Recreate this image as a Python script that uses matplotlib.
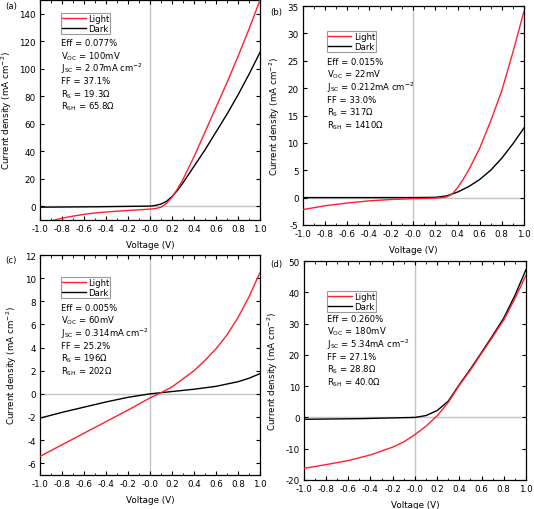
import matplotlib
matplotlib.use("Agg")
import matplotlib.pyplot as plt
import numpy as np

plt.rcParams['font.family'] = ['DejaVu Sans']
plt.rcParams['axes.unicode_minus'] = False
plt.rcParams['mathtext.default'] = 'regular'

# ---- data (voltage in V, current density in mA cm-2) ----
v_a_light = [-1.0, -0.9, -0.8, -0.7, -0.6, -0.5, -0.4, -0.3, -0.2, -0.1, 0.0, 0.05, 0.1, 0.15, 0.2, 0.25, 0.3, 0.4, 0.5, 0.6, 0.7, 0.8, 0.9, 1.0]
j_a_light = [-12.5, -10.8, -8.8, -7.3, -6.0, -5.0, -4.3, -3.7, -3.2, -2.7, -2.2, -1.8, -0.8, 2.0, 6.5, 12.5, 19.5, 36, 54, 72, 90, 109, 129, 150]
v_a_dark = [-1.0, -0.5, 0.0, 0.05, 0.1, 0.15, 0.2, 0.25, 0.3, 0.4, 0.5, 0.6, 0.7, 0.8, 0.9, 1.0]
j_a_dark = [-0.8, -0.5, 0.0, 0.5, 1.5, 3.5, 7.0, 11.5, 17, 29, 41, 54, 67, 81, 96, 112]

v_b_light = [-1.0, -0.8, -0.6, -0.4, -0.2, 0.0, 0.2, 0.3, 0.35, 0.4, 0.45, 0.5, 0.55, 0.6, 0.7, 0.8, 0.9, 1.0]
j_b_light = [-2.2, -1.5, -1.0, -0.6, -0.35, -0.2, -0.1, 0.1, 0.6, 1.8, 3.3, 5.0, 7.0, 9.0, 14.0, 19.5, 26.5, 34.0]
v_b_dark = [-1.0, -0.5, 0.0, 0.2, 0.3, 0.4, 0.5, 0.6, 0.7, 0.8, 0.9, 1.0]
j_b_dark = [0.0, 0.0, 0.0, 0.05, 0.3, 1.0, 2.0, 3.3, 5.0, 7.2, 9.8, 12.7]

v_c_light = [-1.0, -0.8, -0.6, -0.4, -0.2, 0.0, 0.1, 0.2, 0.3, 0.4, 0.5, 0.6, 0.7, 0.8, 0.9, 1.0]
j_c_light = [-5.4, -4.4, -3.4, -2.4, -1.4, -0.35, 0.1, 0.6, 1.3, 2.0, 2.9, 3.9, 5.1, 6.6, 8.4, 10.5]
v_c_dark = [-1.0, -0.8, -0.6, -0.4, -0.2, 0.0, 0.1, 0.2, 0.4, 0.6, 0.8, 0.9, 1.0]
j_c_dark = [-2.1, -1.6, -1.15, -0.7, -0.3, 0.0, 0.1, 0.2, 0.4, 0.65, 1.05, 1.35, 1.75]

v_d_light = [-1.0, -0.8, -0.6, -0.4, -0.2, -0.1, 0.0, 0.1, 0.2, 0.3, 0.4, 0.5, 0.6, 0.7, 0.8, 0.9, 1.0]
j_d_light = [-16.3, -15.1, -13.8, -12.0, -9.5, -7.8, -5.5, -2.8, 0.5, 4.8, 10.3, 15.2, 20.5, 25.8, 31.2, 38.0, 45.5]
v_d_dark = [-1.0, -0.5, 0.0, 0.1, 0.2, 0.3, 0.4, 0.5, 0.6, 0.7, 0.8, 0.9, 1.0]
j_d_dark = [-0.6, -0.4, 0.0, 0.6, 2.2, 5.2, 10.5, 15.5, 20.8, 26.2, 31.8, 39.0, 47.3]

params_a = ['Eff = 0.077%', 'V$_{OC}$ = 100mV', 'J$_{SC}$ = 2.07mA cm$^{-2}$', 'FF = 37.1%', 'R$_{S}$ = 19.3\u03a9', 'R$_{SH}$ = 65.8\u03a9']
params_b = ['Eff = 0.015%', 'V$_{OC}$ = 22mV', 'J$_{SC}$ = 0.212mA cm$^{-2}$', 'FF = 33.0%', 'R$_{S}$ = 317\u03a9', 'R$_{SH}$ = 1410\u03a9']
params_c = ['Eff = 0.005%', 'V$_{OC}$ = 60mV', 'J$_{SC}$ = 0.314mA cm$^{-2}$', 'FF = 25.2%', 'R$_{S}$ = 196\u03a9', 'R$_{SH}$ = 202\u03a9']
params_d = ['Eff = 0.260%', 'V$_{OC}$ = 180mV', 'J$_{SC}$ = 5.34mA cm$^{-2}$', 'FF = 27.1%', 'R$_{S}$ = 28.8\u03a9', 'R$_{SH}$ = 40.0\u03a9']

x_ticks = np.round(np.arange(-1.0, 1.01, 0.2), 1)

fig = plt.figure(figsize=(5.34, 5.10), dpi=100)
FS = 6.3


def panel(rect, label, label_px, vl, jl, vd, jd, ylim, yticks, params, leg_xy, txt_xy):
    ax = fig.add_axes(rect)
    ax.axhline(0, color='#c4c4c4', lw=1.0, zorder=1)
    ax.axvline(0, color='#c4c4c4', lw=1.0, zorder=1)
    ax.plot(vl, jl, color='#ff1f2f', lw=1.0, label='Light', zorder=3)
    ax.plot(vd, jd, color='black', lw=1.0, label='Dark', zorder=2)
    ax.set_xlim(-1, 1)
    ax.set_ylim(*ylim)
    ax.set_xticks(x_ticks)
    ax.set_xticklabels(['%.1f' % t for t in x_ticks])
    ax.set_xticks(np.arange(-0.9, 1.0, 0.2), minor=True)
    ax.set_yticks(yticks)
    ax.tick_params(which='both', direction='in', top=True, right=True, labelsize=FS, pad=3)
    ax.tick_params(which='major', length=3.0, width=0.8)
    ax.tick_params(which='minor', length=1.8, width=0.6)
    for s in ax.spines.values():
        s.set_linewidth(0.9)
    ax.set_xlabel('Voltage (V)', fontsize=FS, labelpad=5)
    ax.set_ylabel('Current density (mA cm$^{-2}$)', fontsize=FS, labelpad=4)
    leg = ax.legend(loc='upper left', bbox_to_anchor=leg_xy, fontsize=FS - 0.2, frameon=True,
                    fancybox=False, edgecolor='#999999', framealpha=1, borderpad=0.1,
                    handlelength=2.8, handletextpad=0.3, labelspacing=0.15, borderaxespad=0)
    leg.get_frame().set_linewidth(0.8)
    for i, line in enumerate(params):
        ax.annotate(line, xy=txt_xy, xycoords='axes fraction', xytext=(0, -9.1 * i),
                    textcoords='offset points', fontsize=FS - 0.2, va='center', ha='left')
    fig.text(label_px[0] / 534, 1 - label_px[1] / 510, label, fontsize=FS - 0.2, ha='left', va='center')
    return ax


panel([0.075, 0.567, 0.412, 0.431], '(a)', (5, 7), v_a_light, j_a_light, v_a_dark, j_a_dark,
      (-10, 150), range(0, 141, 20), params_a, (0.095, 0.94), (0.095, 0.805))
panel([0.567, 0.557, 0.414, 0.429], '(b)', (270, 13), v_b_light, j_b_light, v_b_dark, j_b_dark,
      (-5, 35), range(-5, 36, 5), params_b, (0.109, 0.886), (0.109, 0.748))
panel([0.075, 0.067, 0.412, 0.431], '(c)', (5, 261), v_c_light, j_c_light, v_c_dark, j_c_dark,
      (-7, 12), range(-6, 13, 2), params_c, (0.095, 0.90), (0.095, 0.763))
panel([0.569, 0.057, 0.416, 0.429], '(d)', (270, 265), v_d_light, j_d_light, v_d_dark, j_d_dark,
      (-20, 50), range(-20, 51, 10), params_d, (0.104, 0.863), (0.104, 0.739))

fig.savefig('out.png', dpi=100)
